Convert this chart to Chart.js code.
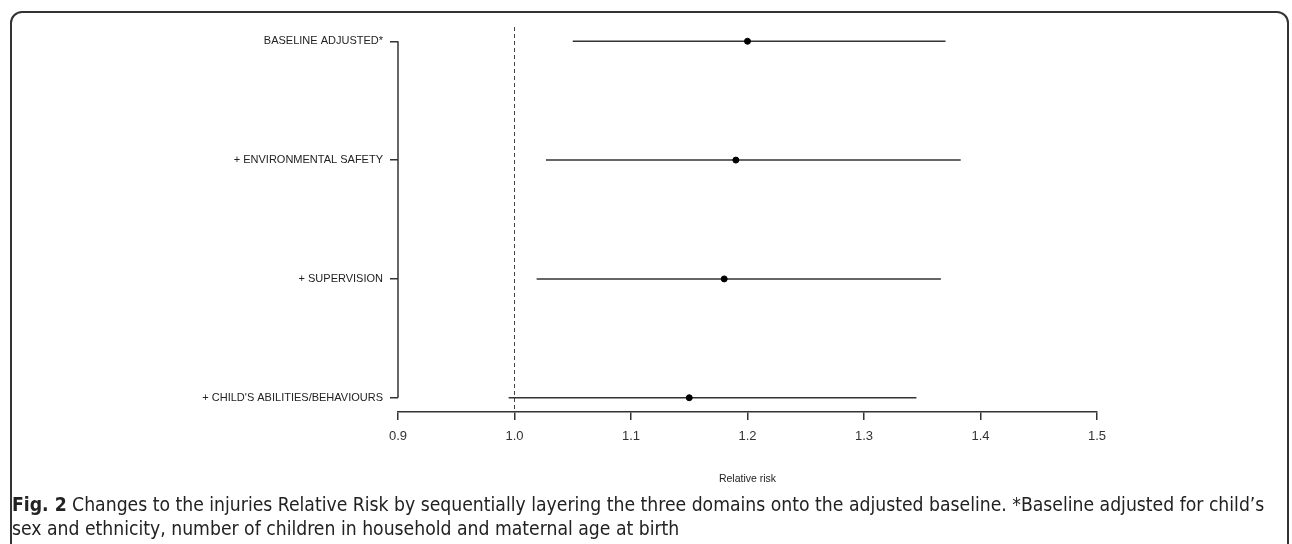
<!DOCTYPE html>
<html>
<head>
<meta charset="utf-8">
<script src="https://cdn.jsdelivr.net/npm/chart.js@4/dist/chart.umd.min.js"></script>
<style>
  html, body { margin: 0; padding: 0; background: #fff; width: 1292px; height: 544px; overflow: hidden; }
  #frame { position: absolute; left: 10px; top: 11px; width: 1279px; height: 560px; border: 2px solid #333; border-radius: 12px; box-sizing: border-box; }
  #wrap { position: absolute; left: 0; top: 0; width: 1292px; height: 500px; }
  #caption { position: absolute; left: 12px; top: 493px; width: 1275px; white-space: nowrap; font-family: "DejaVu Sans Condensed", "Liberation Sans Narrow", "Open Sans", sans-serif; font-size: 19.2px; letter-spacing: 0px; line-height: 24px; color: #222; }
  #caption b { font-weight: bold; }
</style>
</head>
<body>
<div id="frame"></div>
<div id="wrap"><canvas id="c" width="1292" height="500"></canvas></div>
<div id="caption"><b>Fig. 2</b> Changes to the injuries Relative Risk by sequentially layering the three domains onto the adjusted baseline. *Baseline adjusted for child’s<br>sex and ethnicity, number of children in household and maternal age at birth</div>
<script>
const categories = ["BASELINE ADJUSTED*", "+ ENVIRONMENTAL SAFETY", "+ SUPERVISION", "+ CHILD'S ABILITIES/BEHAVIOURS"];
const relativeRisk = [1.20, 1.19, 1.18, 1.15];
const lowerCI = [1.05, 1.027, 1.019, 0.995];
const upperCI = [1.37, 1.383, 1.366, 1.345];
const xTickValues = [0.9, 1.0, 1.1, 1.2, 1.3, 1.4, 1.5];
const referenceValue = 1.0;
const xTitle = "Relative risk";

const rowPos = categories.map((_, i) => i + 1);

const datasets = [];
datasets.push({
  type: 'line',
  data: [{x: referenceValue, y: 0.88}, {x: referenceValue, y: 4.12}],
  borderColor: '#444', borderWidth: 1, borderDash: [4, 3],
  pointRadius: 0, fill: false, clip: false, order: 3
});
categories.forEach((c, i) => {
  datasets.push({
    type: 'line',
    data: [{x: lowerCI[i], y: rowPos[i]}, {x: upperCI[i], y: rowPos[i]}],
    borderColor: '#333', borderWidth: 1.5,
    pointRadius: 0, fill: false, clip: false, order: 2
  });
});
datasets.push({
  type: 'scatter',
  data: relativeRisk.map((v, i) => ({x: v, y: rowPos[i]})),
  backgroundColor: '#000', borderColor: '#000',
  pointRadius: 3, pointHoverRadius: 3, order: 1
});

const yAxisLine = {
  id: 'yAxisLine',
  afterDraw(chart) {
    const y = chart.scales.y, x = chart.scales.x;
    const ctx = chart.ctx;
    ctx.save();
    ctx.strokeStyle = '#333';
    ctx.lineWidth = 1.5;
    ctx.beginPath();
    ctx.moveTo(x.left, y.getPixelForValue(1));
    ctx.lineTo(x.left, y.getPixelForValue(categories.length));
    ctx.stroke();
    ctx.restore();
  }
};

new Chart(document.getElementById('c'), {
  type: 'scatter',
  data: { datasets },
  plugins: [yAxisLine],
  options: {
    responsive: false,
    animation: false,
    layout: { padding: { top: 27, right: 195, bottom: 0, left: 0 } },
    plugins: { legend: { display: false }, tooltip: { enabled: false } },
    scales: {
      x: {
        type: 'linear', min: 0.9, max: 1.5,
        afterBuildTicks(s) { s.ticks = xTickValues.map(v => ({value: v})); },
        afterFit(s) { s.height = 88; },
        ticks: {
          color: '#333', padding: 9,
          font: { family: 'Liberation Sans, Arial, sans-serif', size: 13 },
          callback: v => Number(v).toFixed(1), maxRotation: 0, autoSkip: false
        },
        grid: { drawOnChartArea: false, drawTicks: true, tickLength: 8, color: '#333', lineWidth: 1.5 },
        border: { display: true, color: '#333', width: 1.5 },
        title: {
          display: true, text: xTitle, color: '#222',
          font: { family: 'Liberation Sans, Arial, sans-serif', size: 10.5 },
          padding: { top: 0, bottom: 15 }
        }
      },
      y: {
        type: 'linear', min: 0.88, max: 4.12, reverse: true,
        afterBuildTicks(s) { s.ticks = rowPos.map(v => ({value: v})); },
        afterFit(s) { s.width = 398; },
        ticks: {
          color: '#222', padding: 7,
          font: { family: 'Liberation Sans, Arial, sans-serif', size: 11 },
          callback: v => categories[Math.round(v) - 1] || '', autoSkip: false
        },
        grid: { drawOnChartArea: false, drawTicks: true, tickLength: 8, color: '#333', lineWidth: 1.5 },
        border: { display: false }
      }
    }
  }
});
</script>
</body>
</html>
